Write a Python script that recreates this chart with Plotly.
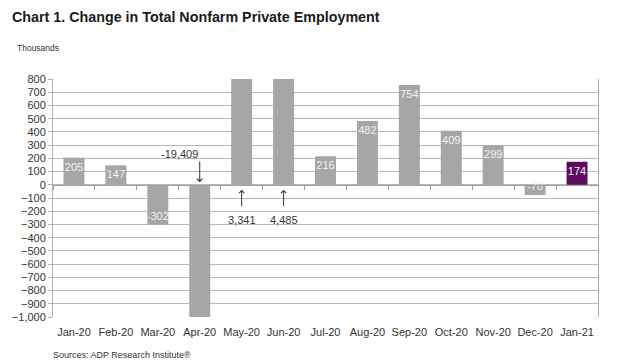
import plotly.graph_objects as go

months = ["Jan-20", "Feb-20", "Mar-20", "Apr-20", "May-20", "Jun-20", "Jul-20",
          "Aug-20", "Sep-20", "Oct-20", "Nov-20", "Dec-20", "Jan-21"]
values = [205, 147, -302, -19409, 3341, 4485, 216, 482, 754, 409, 299, -78, 174]
# values that fall outside the axis range are called out with arrows instead of in-bar labels
offscale = {"Apr-20": "-19,409", "May-20": "3,341", "Jun-20": "4,485"}
y_min, y_max = -1000, 800

GRAY = "#a6a6a6"
PURPLE = "#5e0b5f"
bar_colors = [PURPLE if m == "Jan-21" else GRAY for m in months]
bar_text = ["" if m in offscale else f"{v:,}" for m, v in zip(months, values)]

fig = go.Figure()
fig.add_trace(go.Bar(
    x=months, y=values, marker=dict(color=bar_colors, line=dict(width=0)),
    text=bar_text, textposition="inside", insidetextanchor="end",
    textfont=dict(family="Liberation Sans, Arial", size=11, color="#f2f2f2"),
    textangle=0, hoverinfo="skip", showlegend=False,
))
# invisible trace so the zero-line category axis (with boundary ticks) is drawn
fig.add_trace(go.Scatter(x=months, y=[0] * len(months), xaxis="x2", yaxis="y",
                         mode="lines", line=dict(width=0), opacity=0,
                         hoverinfo="skip", showlegend=False))

zero_pos = (0 - y_min) / (y_max - y_min)

fig.update_layout(
    width=624, height=360,
    margin=dict(l=50, r=26, t=79, b=43),
    paper_bgcolor="white", plot_bgcolor="white",
    bargap=0.5,
    font=dict(family="Liberation Sans, Arial", color="#333333"),
    uniformtext=dict(minsize=11, mode="show"),
    xaxis=dict(type="category", categoryorder="array", categoryarray=months,
               range=[-0.5, len(months) - 0.5],
               showline=False, showgrid=False, ticks="",
               tickfont=dict(size=11, color="#333333"), ticklabelstandoff=7),
    xaxis2=dict(type="category", categoryorder="array", categoryarray=months,
                range=[-0.5, len(months) - 0.5], overlaying="x", anchor="free",
                position=zero_pos, showline=True, linecolor="#a0a0a0", linewidth=1,
                ticks="outside", ticklen=4, tickcolor="#a0a0a0", tickson="boundaries",
                showticklabels=False, showgrid=False),
    yaxis=dict(range=[y_min, y_max], dtick=100, tickformat=",",
               showgrid=True, gridcolor="#b8b8b8", gridwidth=1,
               zeroline=False,
               showline=True, linecolor="#b0b0b0", mirror=True,
               ticks="outside", ticklen=4, tickcolor="#b0b0b0",
               tickfont=dict(size=11, color="#333333")),
)

# title and notes
fig.add_annotation(text="<b>Chart 1. Change in Total Nonfarm Private Employment</b>",
                   xref="paper", yref="paper", x=-43 / 548, y=1 + (79 - 17) / 238,
                   xanchor="left", yanchor="middle", showarrow=False,
                   font=dict(family="Liberation Sans, Arial", size=14.3, color="#1a1a1a"))
fig.add_annotation(text="Thousands", xref="paper", yref="paper",
                   x=-38 / 548, y=1 + (79 - 48) / 238, xanchor="left", yanchor="middle",
                   showarrow=False, font=dict(size=8.5, color="#333333"))
fig.add_annotation(text="Sources: ADP Research Institute®", xref="paper", yref="paper",
                   x=-2 / 548, y=-(355 - 317) / 238, xanchor="left", yanchor="middle",
                   showarrow=False, font=dict(size=9, color="#333333"))

# off-scale callouts
ann_font = dict(size=11, color="#333333")
arrow_kw = dict(showarrow=True, arrowhead=4, arrowsize=1, arrowwidth=1, arrowcolor="#333333", text="")
fig.add_annotation(x="Apr-20", y=20, ax=0, ay=-22, **arrow_kw)
fig.add_annotation(x="Apr-20", y=230, text=offscale["Apr-20"], showarrow=False,
                   xanchor="right", font=ann_font)
for m in ["May-20", "Jun-20"]:
    fig.add_annotation(x=m, y=-38, ax=0, ay=18, **arrow_kw)
    fig.add_annotation(x=m, y=-265, text=offscale[m], showarrow=False, font=ann_font)

fig.write_html("out.html", config={"displayModeBar": False},
               post_script="document.body.style.margin='0px';")
